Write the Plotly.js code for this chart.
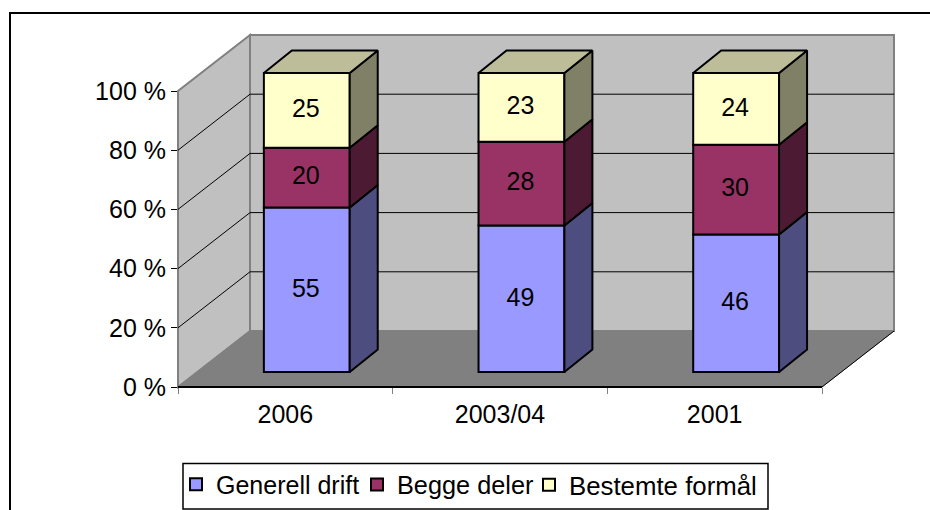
<!DOCTYPE html>
<html>
<head>
<meta charset="utf-8">
<script src="https://cdn.plot.ly/plotly-3.0.1.min.js"></script>
<style>html,body{margin:0;padding:0;background:#fff}</style>
</head>
<body>
<div id="chart" style="width:930px;height:510px"></div>
<script>
// Data
const categories = ['2006', '2003/04', '2001'];
const generellDrift = [55, 49, 46];
const beggeDeler = [20, 28, 30];
const bestemteFormal = [25, 23, 24];
const yTicks = [0, 20, 40, 60, 80, 100];

// Scene geometry (pixels of the 930x510 figure)
const M = {l: 178, r: 36, t: 35, b: 123};
const W = 930, H = 510;
const PW = W - M.l - M.r, PH = H - M.t - M.b;
const pxPerCat = 644 / 3, pxPerPct = 2.96;
const xMax = PW / pxPerCat, yMax = PH / pxPerPct;
const wallDx = 72 / pxPerCat, wallDy = 56 / pxPerPct;   // depth of the floor in axis units
const barCenterShift = 0.1, barWidth = 0.4;
const barLift = 15 / pxPerPct, barScale = 1.01;
const barDx = 28 / pxPerCat, barDy = 22.5 / pxPerPct;
const labelDx = -1 / pxPerCat, labelDy = -0.5 / pxPerPct;

const font = {family: '"Liberation Sans", Arial, sans-serif', size: 25, color: '#000'};

const series = [
  {name: 'Generell drift', values: generellDrift, front: '#9999FF', side: '#4D4D80', top: '#BFBF99', legend: 'legend', textX: 216, legendSize: 25},
  {name: 'Begge deler', values: beggeDeler, front: '#993366', side: '#4D1A33', top: '#BFBF99', legend: 'legend2', textX: 397, legendSize: 25.3},
  {name: 'Bestemte formål', values: bestemteFormal, front: '#FFFFCC', side: '#808066', top: '#BDBD99', legend: 'legend3', textX: 569, legendSize: 25.8}
];

const traces = [], sideTraces = [], labelTraces = [];
const cum = categories.map(() => 0);
const xc = categories.map((_, i) => i + 0.5 + barCenterShift);
series.forEach((s, k) => {
  const bases = s.values.map((v, i) => barLift + cum[i] * barScale);
  const tops = s.values.map((v, i) => barLift + (cum[i] + v) * barScale);
  traces.push({
    type: 'bar', name: s.name, legend: s.legend, x: xc, y: s.values.map(v => v * barScale), base: bases,
    width: barWidth, marker: {color: s.front, line: {color: '#000', width: 2}},
    hoverinfo: 'name+y'
  });
  labelTraces.push({
    type: 'scatter', mode: 'text', x: xc.map(c => c + labelDx),
    y: bases.map((b, i) => (b + tops[i]) / 2 + labelDy),
    text: s.values.map(String), textposition: 'middle center', textfont: font,
    showlegend: false, hoverinfo: 'skip', cliponaxis: false
  });
  const sx = [], sy = [];
  xc.forEach((c, i) => {
    const r = c + barWidth / 2;
    sx.push(r, r + barDx, r + barDx, r, r, null);
    sy.push(bases[i], bases[i] + barDy, tops[i] + barDy, tops[i], bases[i], null);
  });
  sideTraces.push({type: 'scatter', mode: 'lines', x: sx, y: sy, fill: 'toself', fillcolor: s.side,
    line: {color: '#000', width: 2}, showlegend: false, hoverinfo: 'skip', cliponaxis: false});
  if (k === series.length - 1) {
    const tx = [], ty = [];
    xc.forEach((c, i) => {
      const l = c - barWidth / 2, r = c + barWidth / 2;
      tx.push(l, r, r + barDx, l + barDx, l, null);
      ty.push(tops[i], tops[i], tops[i] + barDy, tops[i] + barDy, tops[i], null);
    });
    sideTraces.push({type: 'scatter', mode: 'lines', x: tx, y: ty, fill: 'toself', fillcolor: s.top,
      line: {color: '#000', width: 2}, showlegend: false, hoverinfo: 'skip', cliponaxis: false});
  }
  s.values.forEach((v, i) => cum[i] += v);
});

// Scaffold: walls, floor, grid, frame as paper shapes (not clipped)
const X = u => u / xMax, Y = v => v / yMax;
const PXX = px => (px - M.l) / PW, PXY = py => (H - M.b - py) / PH;
const poly = (pts, fill, line, width) => ({
  type: 'path', xref: 'paper', yref: 'paper', layer: 'below',
  path: 'M' + pts.map(p => X(p[0]) + ',' + Y(p[1])).join('L') + 'Z',
  fillcolor: fill, line: {color: line, width: width}
});
const seg = (a, b, color, width) => ({
  type: 'line', xref: 'paper', yref: 'paper', layer: 'below',
  x0: X(a[0]), y0: Y(a[1]), x1: X(b[0]), y1: Y(b[1]), line: {color: color, width: width}
});
const shapes = [
  poly([[0,0],[wallDx,wallDy],[wallDx,100+wallDy],[0,100]], '#C0C0C0', '#808080', 2),
  poly([[wallDx,wallDy],[3+wallDx,wallDy],[3+wallDx,100+wallDy],[wallDx,100+wallDy]], '#C0C0C0', '#808080', 2),
  poly([[0,0],[3,0],[3+wallDx,wallDy],[wallDx,wallDy]], '#808080', '#808080', 1)
];
yTicks.filter(t => t > 0 && t < 100).forEach(t => {
  shapes.push(seg([0,t],[wallDx,t+wallDy],'#000',1));
  shapes.push(seg([wallDx,t+wallDy],[3+wallDx,t+wallDy],'#000',1));
});
shapes.push(seg([0,0],[3,0],'#000',2));
shapes.push(seg([3,0],[3+wallDx,wallDy],'#000',1));
// outer frame: open at right and bottom edges of the picture
shapes.push({type: 'path', xref: 'paper', yref: 'paper', layer: 'below',
  path: `M${PXX(10)},${PXY(520)}L${PXX(10)},${PXY(13)}L${PXX(940)},${PXY(13)}`, line: {color: '#000', width: 2}});
// legend box
shapes.push({type: 'rect', xref: 'paper', yref: 'paper', layer: 'below',
  x0: PXX(183), x1: PXX(768), y0: PXY(463.5), y1: PXY(509), fillcolor: '#fff', line: {color: '#000', width: 1.5}});

const legendTextOffset = 40, legendTop = 461.5;
const legendFor = s => ({
  orientation: 'h', x: PXX(s.textX - legendTextOffset), y: PXY(legendTop), xanchor: 'left', yanchor: 'top',
  bgcolor: 'rgba(0,0,0,0)', borderwidth: 0, font: Object.assign({}, font, {size: s.legendSize}),
  itemclick: false, itemdoubleclick: false
});

const layout = {
  width: W, height: H, autosize: false,
  margin: {l: M.l, r: M.r, t: M.t, b: M.b, pad: 0, autoexpand: false},
  paper_bgcolor: '#fff', plot_bgcolor: 'rgba(0,0,0,0)', font: font,
  barmode: 'overlay', bargap: 0,
  xaxis: {
    type: 'linear', range: [0, xMax], tickmode: 'array', tickvals: [0.5, 1.5, 2.5], ticktext: categories,
    ticks: '', showgrid: false, zeroline: false, showline: false, ticklabelstandoff: 10,
    minor: {tickmode: 'array', tickvals: [0, 1, 2, 3], ticks: 'outside', ticklen: 6, tickwidth: 1, tickcolor: '#808080', showgrid: false}
  },
  yaxis: {
    range: [0, yMax], tickmode: 'array', tickvals: yTicks, ticktext: yTicks.map(t => t + ' %'),
    ticks: 'outside', ticklen: 6, tickwidth: 1, tickcolor: '#000', showgrid: false, zeroline: false, showline: false
  },
  shapes: shapes,
  showlegend: true,
  legend: legendFor(series[0]),
  legend2: legendFor(series[1]),
  legend3: legendFor(series[2])
};
Plotly.newPlot('chart', traces.concat(sideTraces, labelTraces), layout, {displayModeBar: false, staticPlot: true});
</script>
</body>
</html>
